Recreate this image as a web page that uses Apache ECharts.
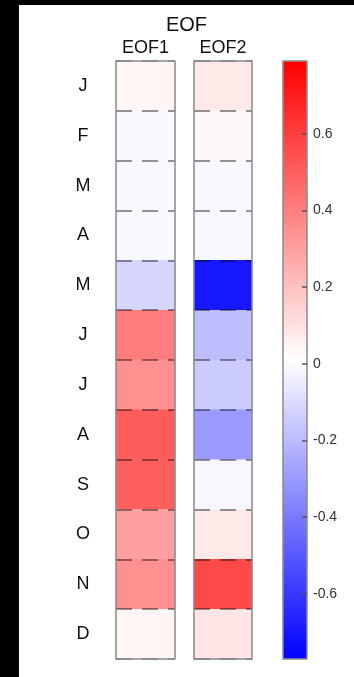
<!DOCTYPE html>
<html>
<head>
<meta charset="utf-8">
<style>
  html, body { margin: 0; padding: 0; background: #000; width: 354px; height: 677px; overflow: hidden; }
  #chart { position: absolute; left: 19px; top: 5px; width: 335px; height: 672px; background: #fff; }
</style>
<script src="https://cdn.jsdelivr.net/npm/echarts@6/dist/echarts.min.js"></script>
</head>
<body>
<div id="chart"></div>
<script>
// Monthly loadings of the two leading EOF modes
const months = ['J', 'F', 'M', 'A', 'M', 'J', 'J', 'A', 'S', 'O', 'N', 'D'];
const modeNames = ['EOF1', 'EOF2'];
const eof1 = [0.04, -0.01, -0.01, -0.01, -0.115, 0.41, 0.35, 0.51, 0.50, 0.30, 0.35, 0.04];
const eof2 = [0.08, 0.03, -0.01, -0.01, -0.70, -0.19, -0.15, -0.30, -0.015, 0.08, 0.57, 0.09];
const colorMin = -0.77;
const colorMax = 0.79;
const colorTicks = [-0.6, -0.4, -0.2, 0, 0.2, 0.4, 0.6];

const chart = echarts.init(document.getElementById('chart'));

const FONT = 'Liberation Sans, Arial, sans-serif';
const BORDER = '#8a8a8a';

function columnGrid(left, width) {
  return {
    left: left, top: 56, width: width, height: 598,
    show: true, z: 10,
    backgroundColor: 'transparent',
    borderColor: BORDER, borderWidth: 1.5
  };
}

function columnXAxis(gridIndex, name) {
  return {
    gridIndex: gridIndex, type: 'category', position: 'top', data: [name],
    axisLine: { show: false }, axisTick: { show: false },
    axisLabel: { color: '#111', fontFamily: FONT, fontSize: 18, margin: 4 },
    splitLine: { show: false }
  };
}

function columnYAxis(gridIndex, showLabels) {
  return {
    gridIndex: gridIndex, type: 'category', data: months, inverse: true, z: 5,
    axisLine: { show: false }, axisTick: { show: false },
    axisLabel: {
      show: showLabels, color: '#111', fontFamily: FONT, fontSize: 18,
      margin: 33, align: 'center'
    },
    splitLine: {
      show: true,
      lineStyle: { color: 'rgba(0,0,0,0.55)', width: 1.5, type: [16, 10] }
    }
  };
}

const option = {
  animation: false,
  title: {
    text: 'EOF', left: 'center', top: 10, padding: 0,
    textStyle: { fontFamily: FONT, fontSize: 20, fontWeight: 'normal', color: '#111' }
  },
  grid: [
    columnGrid(97, 59),
    columnGrid(175, 58),
    {
      left: 264, top: 56, width: 24, height: 598,
      show: true, z: 10, backgroundColor: 'transparent',
      borderColor: BORDER, borderWidth: 1.5
    }
  ],
  xAxis: [
    columnXAxis(0, modeNames[0]),
    columnXAxis(1, modeNames[1]),
    { gridIndex: 2, type: 'value', show: false }
  ],
  yAxis: [
    columnYAxis(0, true),
    columnYAxis(1, false),
    {
      gridIndex: 2, type: 'value', position: 'right', min: colorMin, max: colorMax, z: 12,
      axisLine: { show: false, onZero: false },
      splitLine: { show: false },
      axisTick: {
        show: true, inside: true, length: 5, customValues: colorTicks,
        lineStyle: { color: '#555', width: 1.5 }
      },
      axisLabel: {
        customValues: colorTicks, margin: 6, color: '#333',
        fontFamily: FONT, fontSize: 14,
        formatter: v => String(Math.round(v * 10) / 10)
      }
    }
  ],
  visualMap: {
    type: 'continuous', min: colorMin, max: colorMax, dimension: 2,
    seriesIndex: [0, 1],
    left: 264, top: 56, itemWidth: 24, itemHeight: 598, padding: 0,
    calculable: false, text: null, showLabel: false,
    inRange: { color: ['#0000ff', '#ffffff', '#ff0000'] }
  },
  series: [
    {
      type: 'heatmap', xAxisIndex: 0, yAxisIndex: 0,
      data: eof1.map((v, i) => [0, i, v])
    },
    {
      type: 'heatmap', xAxisIndex: 1, yAxisIndex: 1,
      data: eof2.map((v, i) => [0, i, v])
    }
  ]
};

chart.setOption(option);
</script>
</body>
</html>
